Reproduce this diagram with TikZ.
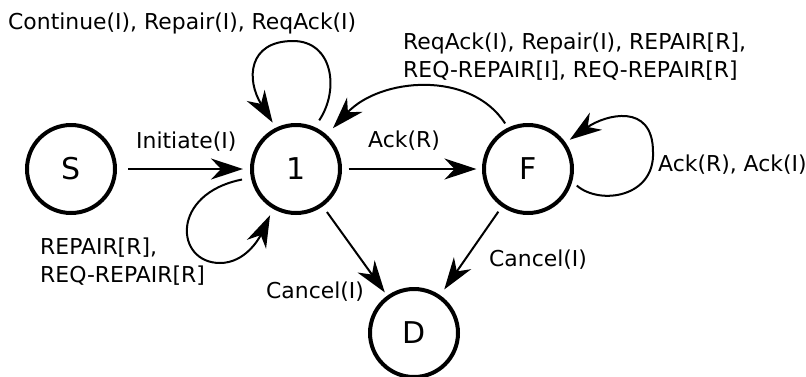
\documentclass[tikz,border=0pt]{standalone}
\usepackage{fontspec}
\setmainfont{DejaVu Sans}
\usetikzlibrary{arrows.meta}
\begin{document}
\begin{tikzpicture}[x=1pt,y=-1pt,
  state/.style={circle,draw,line width=4pt,minimum size=88pt,inner sep=0pt,font=\fontsize{30}{36}\selectfont},
  edge/.style={line width=2pt,-{Stealth[length=32pt,width=21pt,inset=10pt]},shorten <=6pt,shorten >=6pt},
  lbl/.style={font=\fontsize{21.9}{27.5}\selectfont,inner sep=0pt,anchor=base west,align=left}]
\useasboundingbox (0,0) rectangle (806,376);
\node[state] (S) at (71,169) {S};
\node[state] (n1) at (296,169) {1};
\node[state] (F) at (528,169) {F};
\node[state] (D) at (414,333) {D};
\coordinate (t1) at (293,41);
\coordinate (b1) at (220,263);
\coordinate (fr) at (653,152);
% straight edges
\draw[edge,shorten <=11pt,shorten >=7pt] (S) -- (n1);
\draw[edge,shorten <=6.5pt,shorten >=5.5pt] (n1) -- (F);
\draw[edge,shorten <=7pt,shorten >=4pt] (n1) -- (D);
\draw[edge,shorten <=6pt,shorten >=7pt] (F) -- (D);
% self loop on 1 (top)
\draw[edge,shorten <=8pt,shorten >=6pt] (n1.66) .. controls +(25,-37) and +(40,0) .. (t1) .. controls +(-45,0) and +(-30,-48) .. (n1.116);
% self loop on 1 (bottom left)
\draw[edge,shorten <=9pt,shorten >=7pt] (n1.191) .. controls +(-81,16) and +(-45,0) .. (b1) .. controls +(25,0) and +(-14,30) .. (n1.240);
% F to 1 curve
\draw[edge,shorten <=5pt,shorten >=9pt] (F.116.6) .. controls +(-37.5,-58) and +(53,-57) .. (n1.48);
% self loop on F
\draw[edge,shorten <=6pt,shorten >=5pt] (F.344) .. controls +(28,24) and +(2,45) .. (fr) .. controls +(0,-50) and +(39.5,-28) .. (F.35);
% labels
\node[lbl] (l1) at (8,29) {Continue(I), Repair(I), ReqAck(I)};
\node[lbl] (l2) at (136,148) {Initiate(I)};
\node[lbl] (l3) at (368,147) {Ack(R)};
\node[lbl] (l4) at (403,77) {ReqAck(I), Repair(I), REPAIR[R],\\REQ-REPAIR[I], REQ-REPAIR[R]};
\node[lbl] (l5) at (658,171) {Ack(R), Ack(I)};
\node[lbl] (l6) at (40,282) {REPAIR[R],\\REQ-REPAIR[R]};
\node[lbl] (l7) at (266,298) {Cancel(I)};
\node[lbl] (l8) at (489,266) {Cancel(I)};
\end{tikzpicture}
\end{document}
